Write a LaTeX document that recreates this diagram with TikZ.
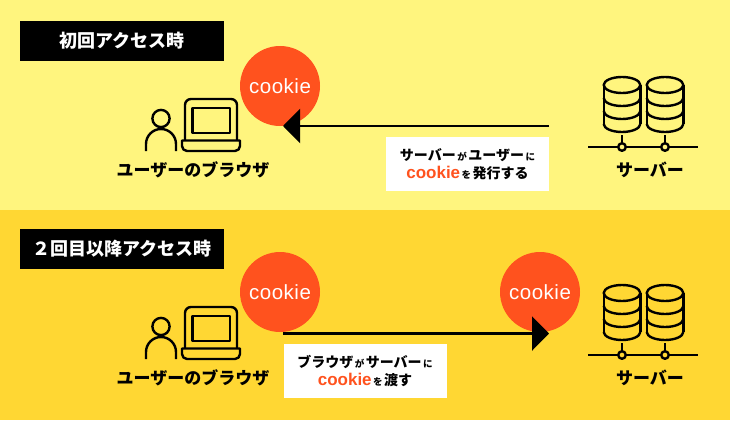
\documentclass[tikz,border=0pt]{standalone}
\usepackage{fontspec}
\setmainfont{Noto Sans CJK JP}[BoldFont={Noto Sans CJK JP Black}]
\newfontfamily\cookiefont{Liberation Sans}[LetterSpace=2.5]
\newfontfamily\redcookiefont{Liberation Sans}
\usetikzlibrary{arrows.meta}
\definecolor{paleyellow}{HTML}{FFF57E}
\definecolor{deepyellow}{HTML}{FFD733}
\definecolor{cookiered}{HTML}{FF521E}
\newcommand{\smallkana}[1]{\hspace{1.5pt}{\fontsize{9.5}{9.5}\selectfont #1}\hspace{1.5pt}}
\newcommand{\redcookie}{{\color{cookiered}\redcookiefont\bfseries\fontsize{17}{17}\selectfont cookie}}
\tikzset{
  titlebox/.style={fill=black, text=white, minimum width=204pt, minimum height=40pt, inner sep=0pt, font=\bfseries\fontsize{18}{18}\selectfont},
  cookienode/.style={circle, fill=cookiered, text=white, minimum size=80pt, inner sep=0pt, font=\cookiefont\fontsize{20.5}{20.5}\selectfont},
  notebox/.style={fill=white, minimum width=163pt, minimum height=54pt, inner sep=0pt, align=center, font=\bfseries\fontsize{14}{18.5}\selectfont},
  caption/.style={inner sep=0pt, font=\bfseries\fontsize{17}{17}\selectfont},
  flow/.style={line width=2.4pt, -{Triangle[length=17pt,width=34pt]}},
  icon/.style={line width=2.4pt, line join=round},
  browsericon/.pic={
    \draw[icon] (161,118.5) circle (8.6);
    \draw[icon] (146,151) -- (146,144) arc[start angle=180, end angle=360, radius=15] -- (176,151);
    \draw[icon] (185,140) -- (185,105) arc[start angle=180, end angle=270, radius=6] -- (231,99) arc[start angle=270, end angle=360, radius=6] -- (237,140);
    \draw[icon] (192.5,108) rectangle (230,133);
    \draw[icon] (182,140.5) -- (240,140.5) -- (240,146) arc[start angle=0, end angle=90, radius=5] -- (187,151) arc[start angle=90, end angle=180, radius=5] -- cycle;
  },
  dbcylinder/.pic={
    \draw[icon] (0,0) ellipse (18.3 and 8);
    \draw[icon] (-18.3,0) -- (-18.3,39);
    \draw[icon] (18.3,0) -- (18.3,39);
    \draw[icon] (-18.3,13) arc[start angle=180, end angle=0, x radius=18.3, y radius=8];
    \draw[icon] (-18.3,26) arc[start angle=180, end angle=0, x radius=18.3, y radius=8];
    \draw[icon] (-18.3,39) arc[start angle=180, end angle=0, x radius=18.3, y radius=8];
    \draw[icon] (0,50) -- (0,58);
    \draw[icon] (0,62) circle (3.8);
  },
  dbserver/.pic={
    \draw[icon] (588,147) -- (618,147);
    \draw[icon] (625.8,147) -- (661,147);
    \draw[icon] (668.8,147) -- (698,147);
    \pic at (622,85) {dbcylinder};
    \pic at (665,85) {dbcylinder};
  }
}
\begin{document}
\begin{tikzpicture}[x=1pt,y=-1pt]
\useasboundingbox (0,0) rectangle (730,420);
% backgrounds
\fill[paleyellow] (0,0) rectangle (730,210);
\fill[deepyellow] (0,210) rectangle (730,420);
% first access
\node[titlebox] (firsttitle) at (122,41) {初回アクセス時};
\pic at (0,0) {browsericon};
\pic at (0,0) {dbserver};
\node[caption] (firstbrowser) at (193,170) {ユーザーのブラウザ};
\node[caption] (firstserver) at (650,170) {サーバー};
\node[cookienode] (firstcookie) at (280,86) {cookie};
\coordinate (firstfrom) at (549,126);
\coordinate (firstto) at (283,126);
\draw[flow] (firstfrom) -- (firstto);
\node[notebox] (firstnote) at (467.5,164) {サーバー\smallkana{が}ユーザー\smallkana{に}\\\redcookie\smallkana{を}発行する};
% second access
\node[titlebox] (secondtitle) at (122,249) {２回目以降アクセス時};
\pic at (0,208) {browsericon};
\pic at (0,208) {dbserver};
\node[caption] (secondbrowser) at (193,378) {ユーザーのブラウザ};
\node[caption] (secondserver) at (650,378) {サーバー};
\node[cookienode] (leftcookie) at (280,292) {cookie};
\node[cookienode] (rightcookie) at (540,292) {cookie};
\coordinate (secondfrom) at (283,333.5);
\coordinate (secondto) at (549,333.5);
\draw[flow] (secondfrom) -- (secondto);
\node[notebox] (secondnote) at (365,371) {ブラウザ\smallkana{が}サーバー\smallkana{に}\\\redcookie\smallkana{を}渡す};
\end{tikzpicture}
\end{document}
